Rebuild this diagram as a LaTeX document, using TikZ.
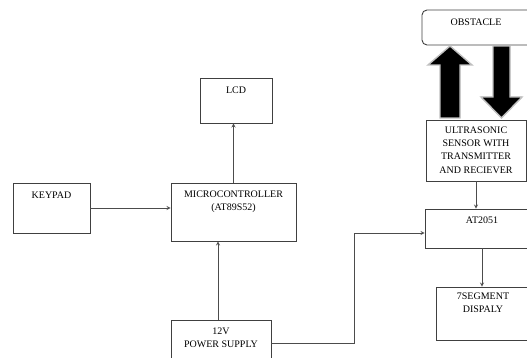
\documentclass[tikz,border=0pt]{standalone}
\usepackage{fontspec}
\setmainfont{Liberation Serif}
\usepackage{tikz}
\usetikzlibrary{positioning}

\begin{document}
\begin{tikzpicture}[x=1pt,y=-1pt,
		box/.style={draw=black!75, line width=0.9pt, rectangle, inner sep=0pt},
		lbl/.style={anchor=north, inner sep=0pt, align=center, font=\fontsize{10}{13.3}\selectfont},
		conn/.style={draw=black!70, line width=0.8pt, -stealth},
		bigarrow/.style={fill=black, draw=black!25, line width=1.4pt, line join=miter}]
					\useasboundingbox (0,0) rectangle (527,358);
					\clip (0,0) rectangle (527,358);
					
					\node[box, minimum width=77, minimum height=50, label={[lbl, yshift=-9pt]north:KEYPAD}] (keypad) at (51.5,208) {};
					\node[box, minimum width=125, minimum height=58, label={[lbl, yshift=-8pt]north:MICROCONTROLLER\\(AT89S52)}] (mcu) at (233.5,212) {};
					\node[box, minimum width=72, minimum height=45, label={[lbl, yshift=-9pt]north:LCD}] (lcd) at (236,100.5) {};
					\node[box, minimum width=100, minimum height=46, label={[lbl, yshift=-8pt]north:12V\\POWER SUPPLY}] (psu) at (221,343) {};
					
					\node[box, rounded corners=5pt, minimum width=124, minimum height=35, label={[lbl, yshift=-9pt, xshift=-8pt]north:OBSTACLE}] (obstacle) at (484,27.5) {};
					\node[box, minimum width=100, minimum height=61, label={[lbl, yshift=-7pt]north:ULTRASONIC\\SENSOR WITH\\TRANSMITTER\\AND RECIEVER}] (ultra) at (476,150.5) {};
					\node[box, minimum width=114, minimum height=39, label={[lbl, yshift=-8pt]north:AT2051}] (at2051) at (482,228.5) {};
					\node[box, minimum width=94, minimum height=53, label={[lbl, yshift=-6pt]north:7SEGMENT\\DISPALY}] (seg) at (483,313.5) {};
					
					\draw[conn] (keypad.east) -- (mcu.west |- keypad.east);
					\draw[conn] (mcu.north) -- (mcu.north |- lcd.south);
					\draw[conn] ([xshift=-3pt]psu.north) -- ([xshift=-3pt]psu.north |- mcu.south);
					\draw[conn] (psu.east) -- ++(83,0) |- ([yshift=-4.5pt]at2051.west);
					\draw[conn] (ultra.south) -- (ultra.south |- at2051.north);
					\draw[conn] (at2051.south) -- (at2051.south |- seg.north);
					
					\draw[bigarrow] (440,118) -- (440,65) -- (428,65) -- (450,46) -- (472,65) -- (460,65) -- (460,118) -- cycle;
					\draw[bigarrow] (493,46) -- (510,46) -- (510,97) -- (522,97) -- (501.5,118) -- (481,97) -- (493,97) -- cycle;
					
				\end{tikzpicture}
\end{document}
